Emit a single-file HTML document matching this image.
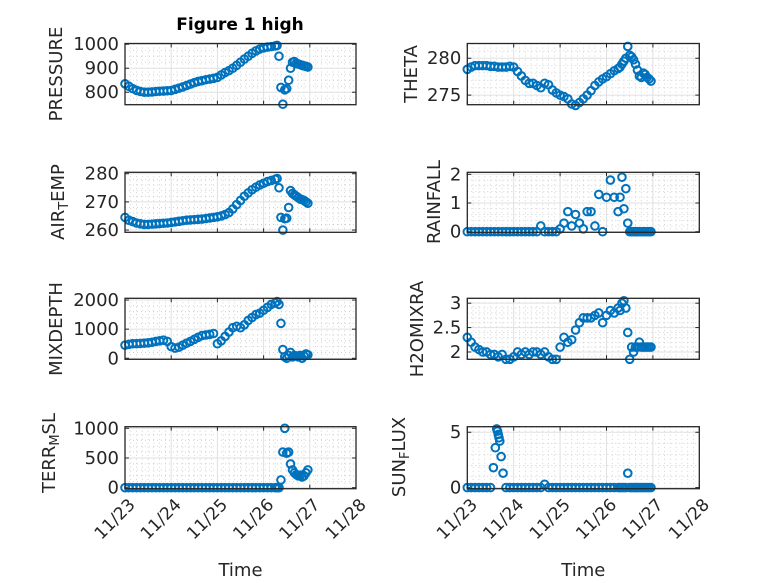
<!DOCTYPE html>
<html><head><meta charset="utf-8"><style>
html,body{margin:0;padding:0;background:#fff;}
svg{display:block;font-family:"DejaVu Sans","Liberation Sans",sans-serif;}
</style></head><body>
<svg id="fig" width="778" height="583" viewBox="0 0 778 583"></svg>
<script>
// shared time base (hours since 11/23 00:00)
const denseHours = [0,2,4,6,8,10,12,14,16,18,20,22,24,26,28,30,32,34,36,38,40,42,44,46,48,50,52,54,56,58,60,62,64,66,68,70,72,74,76,78];
const tailHours = [79,80,81,82,83,84,85,86,87,88,89,90,91,92,93,94,95];
const xTickLabels = ["11/23","11/24","11/25","11/26","11/27","11/28"];

const pressureValues = [835,825,815,808,803,800,800,801,803,804,805,806,807,812,817,822,828,834,840,845,848,852,855,858,862,872,882,890,900,912,925,938,950,962,972,980,985,988,990,993,
 995,950,820,750,810,815,850,900,925,928,920,918,915,912,910,908,905];
const thetaValues = [278.5,278.8,279,279,279,279,278.9,278.9,278.8,278.8,278.8,278.9,278.8,278.2,277.6,277.0,276.6,276.6,276.3,276.0,276.6,276.4,275.7,275.3,275.0,274.8,274.5,273.8,273.6,274.0,274.5,275.0,275.6,276.3,276.8,277.2,277.5,277.9,278.3,278.6,
 278.8,279.2,279.6,280.0,281.6,280.4,280.2,279.8,279.2,278.4,277.6,277.4,278.0,277.8,277.4,277.2,276.9];
const airTempValues = [264.5,263.5,263,262.5,262.2,262,262,262.1,262.2,262.3,262.4,262.5,262.7,262.9,263.1,263.3,263.5,263.6,263.7,263.8,263.9,264.1,264.3,264.5,264.7,265.0,265.5,266.2,267.5,269.0,270.5,272.0,273.2,274.3,275.2,276.0,276.6,277.2,277.6,278.0,
 278.3,275,264.5,260,264,264.2,268,274,273,272.5,272,271.5,271,270.8,270.5,270,269.5];
const rainfallValues = [0,0,0,0,0,0,0,0,0,0,0,0,0,0,0,0,0,0,0,0.2,0,0,0,0,0.1,0.3,0.7,0.2,0.6,0.3,0.1,0.7,0.7,0.2,1.3,0.0,1.2,1.8,1.2,0.7,
 1.2,1.9,0.8,1.5,0.3,0,0,0,0,0,0,0,0,0,0,0,0];
const mixDepthValues = [450,480,500,500,510,520,530,550,580,600,620,580,400,350,380,450,520,580,650,720,780,800,820,850,500,600,750,900,1050,1100,1050,1150,1300,1400,1500,1550,1650,1750,1850,1900,
 1950,1850,1200,300,50,0,100,200,50,100,80,50,100,0,80,150,120];
const h2oValues = [2.3,2.2,2.1,2.05,2.0,2.0,1.95,1.95,1.9,1.95,1.85,1.85,1.9,2.0,1.95,2.0,1.95,2.0,2.0,1.95,2.0,1.9,1.85,1.85,2.1,2.3,2.2,2.25,2.45,2.6,2.7,2.7,2.7,2.75,2.8,2.6,2.75,2.85,2.8,2.9,
 2.85,3.0,3.05,2.9,2.4,1.85,2.1,2.0,2.1,2.1,2.2,2.1,2.1,2.1,2.1,2.1,2.1];
const terrValues = [0,0,0,0,0,0,0,0,0,0,0,0,0,0,0,0,0,0,0,0,0,0,0,0,0,0,0,0,0,0,0,0,0,0,0,0,0,0,0,0,
 0,0,130,600,1000,580,600,400,300,250,220,200,210,180,200,250,300];
const sunValues = [0,0,0,0,0,0,0,null,null,null,0,0,0,0,0,0,0,0,0,0,0.3,0,0,0,0,0,0,0,0,0,0,0,0,0,0,0,0,0,0,0,
 0,0,0,0,1.3,0,0,0,0,0,0,0,0,0,0,0,0];
const sunBurstHours = [13.5,14.5,15.2,15.6,16,16.4,16.8,17.5,18.5];
const sunBurstValues = [1.8,3.6,5.3,5.1,4.8,4.5,4.2,2.8,1.3];

const pressureTicks = [800,900,1000], airTicks=[260,270,280], thetaTicks=[275,280], rainTicks=[0,1,2];
const mixTicks=[0,1000,2000], h2oTicks=[2,2.5,3], terrTicks=[0,500,1000], sunTicks=[0,5];

const NS="http://www.w3.org/2000/svg";
const svg=document.getElementById('fig');
function mk(tag,attrs,parent){const e=document.createElementNS(NS,tag);for(const k in attrs)e.setAttribute(k,attrs[k]);(parent||svg).appendChild(e);return e;}
const allHours = denseHours.concat(tailHours);
const COLS=[[125,356],[467.3,699.3]];
const ROWS=[[43.5,104.7],[172.3,232.3],[298.3,359.3],[426.7,488.7]];

function panel(o){
  const [x0,x1]=COLS[o.col],[y0,y1]=ROWS[o.row];
  const g=mk('g',{});
  
  
  const xs=h=>x0+(h/24)/5*(x1-x0);
  const ys=v=>y1-(v-o.ylim[0])/(o.ylim[1]-o.ylim[0])*(y1-y0);
  for(let d=0;d<5;d++)for(let k=1;k<8;k++){const x=xs((d+k/8)*24);mk('line',{x1:x,x2:x,y1:y0,y2:y1,stroke:'#c8c8c8','stroke-width':0.8,'stroke-dasharray':'1,3'},g);}
  const st=o.ticks[1]-o.ticks[0],sub=o.sub||5;
  for(let v=o.ticks[0]-st;v<=o.ylim[1];v+=st/sub){const y=ys(v);if(y>y0&&y<y1&&!o.ticks.some(t=>Math.abs(t-v)<1e-9)){mk('line',{x1:x0,x2:x1,y1:y,y2:y,stroke:'#c8c8c8','stroke-width':0.8,'stroke-dasharray':'1,3'},g);}}
  for(let d=1;d<5;d++){const x=xs(d*24);mk('line',{x1:x,x2:x,y1:y0,y2:y1,stroke:'#e0e0e0','stroke-width':1},g);}
  o.ticks.forEach(v=>{const y=ys(v);mk('line',{x1:x0,x2:x1,y1:y,y2:y,stroke:'#e0e0e0','stroke-width':1},g);
    mk('line',{x1:x0,x2:x0+4,y1:y,y2:y,stroke:'#262626','stroke-width':1},g);
    mk('line',{x1:x1,x2:x1-4,y1:y,y2:y,stroke:'#262626','stroke-width':1},g);
    const t=mk('text',{x:x0-6,y:y+6,'text-anchor':'end','font-size':18,fill:'#262626'},g);t.textContent=String(v);
    
    
  });
  for(let d=0;d<=5;d++){const x=xs(d*24);
    mk('line',{x1:x,x2:x,y1:y1,y2:y1-4,stroke:'#262626','stroke-width':1},g);
    mk('line',{x1:x,x2:x,y1:y0,y2:y0+4,stroke:'#262626','stroke-width':1},g);}
  const pts=mk('g',{fill:'none',stroke:'#0072BD','stroke-width':2},g);
  
  
  const plot=(hs,vs)=>vs.forEach((v,i)=>{if(v===null)return;const c=mk('circle',{cx:xs(hs[i]),cy:ys(v),r:3.8},pts);
    
    });
  plot(allHours,o.values);
  if(o.extraH)plot(o.extraH,o.extraV);
  mk('rect',{x:x0,y:y0,width:x1-x0,height:y1-y0,fill:'none',stroke:'#262626','stroke-width':1.3},g);
  const lab=mk('text',{transform:`translate(${o.lx},${o.ly}) rotate(-90)`,'text-anchor':'middle','font-size':18,fill:'#262626'},g);
  
  
  if(o.sub1){const a=mk('tspan',{},lab);a.textContent=o.label[0];const b=mk('tspan',{'baseline-shift':'-30%','font-size':13},lab);b.textContent=o.label[1];const c=mk('tspan',{},lab);c.textContent=o.label[2];}
  else lab.textContent=o.label;
  if(o.row===3){
    for(let d=0;d<=5;d++){const t=mk('text',{transform:`translate(${xs(d*24)+11},${y1+17}) rotate(-45)`,'text-anchor':'end','font-size':17,fill:'#262626'},g);
      t.textContent=xTickLabels[d];
      
      }
    const tt=mk('text',{x:(x0+x1)/2,y:576,'text-anchor':'middle','font-size':18,fill:'#262626'},g);tt.textContent='Time';
    
    
  }
}
panel({name:'pressure',col:0,row:0,ylim:[748,1003],ticks:pressureTicks,sub:4,values:pressureValues,label:'PRESSURE',lx:62,ly:74});
panel({name:'theta',col:1,row:0,ylim:[273.7,282.0],ticks:thetaTicks,values:thetaValues,label:'THETA',lx:417,ly:74});
panel({name:'air-temp',col:0,row:1,ylim:[259.2,280.5],ticks:airTicks,values:airTempValues,label:['AIR','T','EMP'],sub1:true,lx:64,ly:202});
panel({name:'rainfall',col:1,row:1,ylim:[-0.02,2.07],ticks:rainTicks,values:rainfallValues,label:'RAINFALL',lx:440,ly:202});
panel({name:'mixdepth',col:0,row:2,ylim:[-35,2060],ticks:mixTicks,values:mixDepthValues,label:'MIXDEPTH',lx:62,ly:329});
panel({name:'h2omixra',col:1,row:2,ylim:[1.85,3.10],ticks:h2oTicks,values:h2oValues,label:'H2OMIXRA',lx:423,ly:329});
panel({name:'terr-msl',col:0,row:3,ylim:[-17,1027],ticks:terrTicks,values:terrValues,label:['TERR','M','SL'],sub1:true,lx:55,ly:453});
panel({name:'sun-flux',col:1,row:3,ylim:[-0.1,5.5],ticks:sunTicks,values:sunValues,extraH:sunBurstHours,extraV:sunBurstValues,label:['SUN','F','LUX'],sub1:true,lx:405,ly:457});
const title=mk('text',{x:240,y:30,'text-anchor':'middle','font-size':17,'font-weight':'bold',fill:'#000'});
title.textContent='Figure 1 high';


</script>
</body></html>
